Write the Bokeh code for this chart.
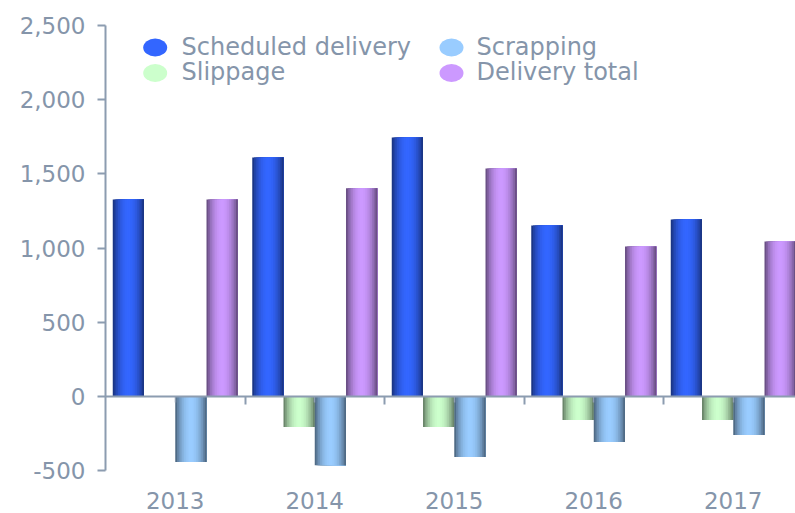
import numpy as np
from bokeh.plotting import figure
from bokeh.models import Range1d, LinearAxis, FixedTicker, NumeralTickFormatter
from bokeh.core.properties import value
from bokeh.embed import file_html
from bokeh.resources import INLINE

# ---------------- data ----------------
years = ["2013", "2014", "2015", "2016", "2017"]
series_names = ["Scheduled delivery", "Slippage", "Scrapping", "Delivery total"]
scheduled_delivery = [1327, 1610, 1745, 1152, 1192]
slippage = [0, -207, -207, -160, -160]
scrapping = [-443, -465, -409, -308, -261]
delivery_total = [1327, 1402, 1536, 1010, 1044]
y_ticks = [-500, 0, 500, 1000, 1500, 2000, 2500]

# ---------------- style ----------------
base_colors = ["#3366ff", "#ccffcc", "#99ccff", "#cc99ff"]
TEXT = "#8595aa"
AXIS = "#8c9cb0"
FONT = "DejaVu Sans"

W, H = 795, 513
LEFT, TOP, BOTTOM = 105, 25, 43
PX_PER_CAT = 139.5
x_end = (W - LEFT) / PX_PER_CAT

p = figure(width=W, height=H, output_backend="svg", toolbar_location=None,
           x_range=Range1d(0, x_end), y_range=Range1d(y_ticks[0], y_ticks[-1]),
           min_border_left=LEFT, min_border_right=0, min_border_top=TOP,
           min_border_bottom=BOTTOM, x_axis_type=None, y_axis_type=None)
p.outline_line_color = None
p.background_fill_color = "white"
p.border_fill_color = "white"


def shade(hexc, f):
    r, g, b = (int(hexc[i:i + 2], 16) for i in (1, 3, 5))
    return "#%02x%02x%02x" % (min(255, round(r * f)), min(255, round(g * f)), min(255, round(b * f)))


def prof(t):
    return 0.42 + 0.58 * np.sin(np.pi * t) ** 0.7


# ---------------- bars (cylinder-like gradient via strips) ----------------
series = [scheduled_delivery, slippage, scrapping, delivery_total]
N = 18
bw = 0.224
off = (1 - 4 * bw) / 2
for k, (vals, col) in enumerate(zip(series, base_colors)):
    lefts, rights, tops, fills = [], [], [], []
    for i, v in enumerate(vals):
        x0 = i + off + k * bw
        for j in range(N):
            t = (j + 0.5) / N
            lefts.append(x0 + j * bw / N)
            rights.append(x0 + bw)
            tops.append(v)
            fills.append(shade(col, prof(t)))
    p.quad(left=lefts, right=rights, bottom=0, top=tops, fill_color=fills, line_color=None)

# ---------------- axes ----------------
yax = LinearAxis(ticker=FixedTicker(ticks=y_ticks), formatter=NumeralTickFormatter(format="0,0"))
yax.axis_line_color = AXIS
yax.axis_line_width = 2
yax.major_tick_line_color = AXIS
yax.major_tick_line_width = 2
yax.major_tick_out = 8
yax.major_tick_in = 0
yax.minor_tick_line_color = None
yax.major_label_text_color = TEXT
yax.major_label_text_font = FONT
yax.major_label_text_font_size = "23px"
yax.major_label_standoff = 12
p.add_layout(yax, "left")

# year labels below the frame
xlab = LinearAxis(ticker=FixedTicker(ticks=[i + 0.5 for i in range(len(years))]),
                  major_label_overrides={i + 0.5: y for i, y in enumerate(years)})
xlab.axis_line_color = None
xlab.major_tick_line_color = None
xlab.minor_tick_line_color = None
xlab.major_label_text_color = TEXT
xlab.major_label_text_font = FONT
xlab.major_label_text_font_size = "23px"
xlab.major_label_standoff = 15
p.add_layout(xlab, "below")

# zero line with category ticks
zax = LinearAxis(fixed_location=0,
                 ticker=FixedTicker(ticks=[i for i in range(1, len(years))],
                                    minor_ticks=[i + 0.5 for i in range(len(years))]),
                 major_label_overrides={i: "" for i in range(1, len(years))})
zax.axis_line_color = AXIS
zax.axis_line_width = 2
zax.major_tick_line_color = AXIS
zax.major_tick_line_width = 2
zax.major_tick_out = 8
zax.major_tick_in = 0
zax.minor_tick_line_color = AXIS
zax.minor_tick_line_width = 1.5
zax.minor_tick_out = 6
zax.minor_tick_in = 0
zax.major_label_text_font_size = "1px"
p.add_layout(zax, "below")

# ---------------- legend (drawn as glyphs) ----------------
def dx(px):  # image px -> data x
    return (px - LEFT) / PX_PER_CAT


def dy(py):  # image px -> data y
    y0, y1 = y_ticks[0], y_ticks[-1]
    top_px, bot_px = TOP, H - BOTTOM
    return y1 - (py - top_px) / (bot_px - top_px) * (y1 - y0)


leg_cols = [(154.7, 181.0), (154.7, 181.0), (451.0, 476.0), (451.0, 476.0)]
leg_rows = [47.0, 72.5, 47.0, 72.5]
for k in range(len(series_names)):
    (ex, tx), ey = leg_cols[k], leg_rows[k]
    p.ellipse(x=[dx(ex)], y=[dy(ey)], width=24, height=18, width_units="screen",
              height_units="screen", fill_color=base_colors[k], line_color=None)
    p.text(x=[dx(tx)], y=[dy(ey - 1)], text=[series_names[k]], text_font=value(FONT),
           text_font_size=value("24px"), text_color=TEXT, text_baseline="middle",
           text_align="left")

open("out.html", "w").write(file_html(p, INLINE))
